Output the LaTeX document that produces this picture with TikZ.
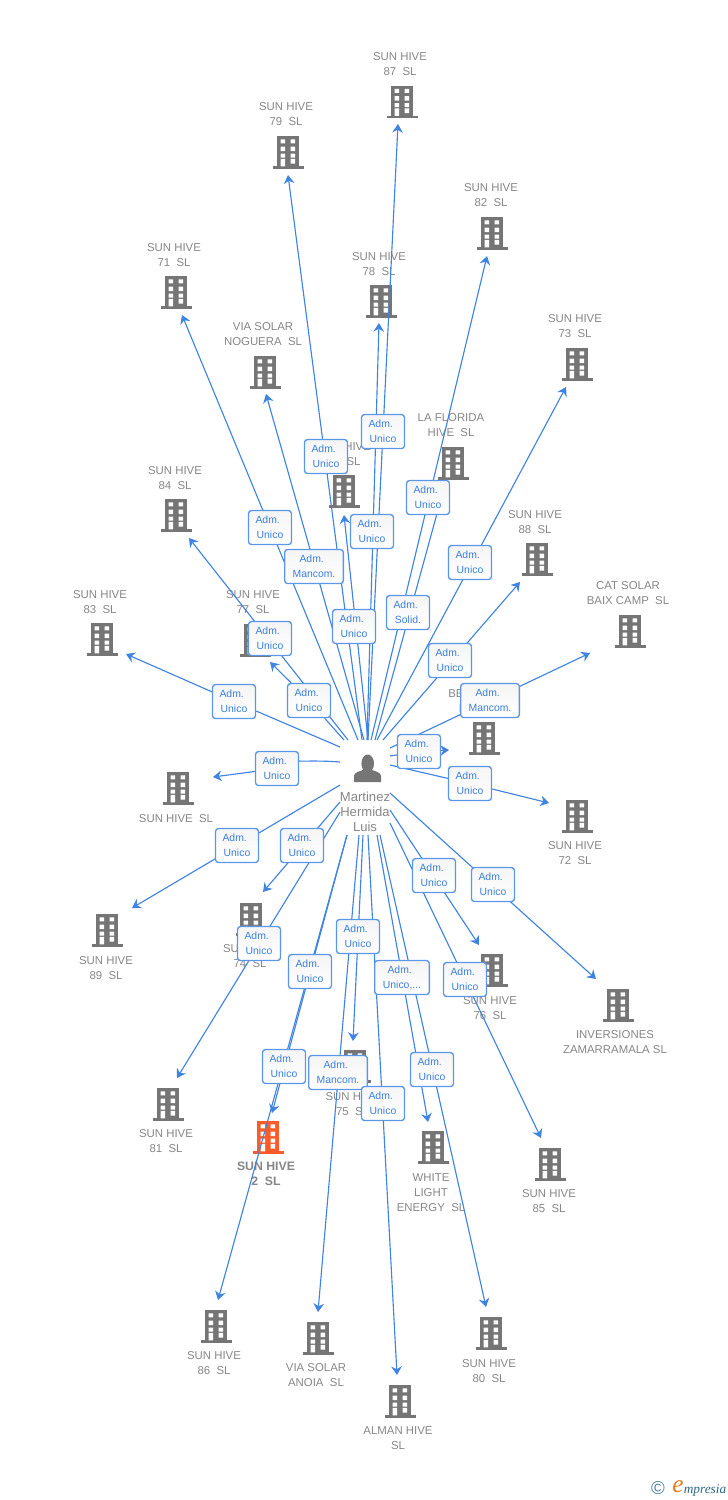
\documentclass[tikz,border=0pt]{standalone}
\usepackage{fontspec}
\setmainfont{Liberation Sans}
\newfontfamily\logofont{Liberation Serif}
\usetikzlibrary{arrows.meta}
\definecolor{linkblue}{HTML}{3F83E3}
\definecolor{boxblue}{HTML}{5B97E8}
\definecolor{txtblue}{HTML}{3A80DC}
\definecolor{bldgray}{HTML}{757575}
\definecolor{bldred}{HTML}{FF5A2A}
\definecolor{capgray}{HTML}{868686}
\definecolor{logoteal}{HTML}{4A7F9A}
\definecolor{logoorange}{HTML}{F07A1A}
\definecolor{logonavy}{HTML}{2F6585}
\pgfdeclarelayer{back}
\pgfsetlayers{back,main}
\newcommand{\Adm}{Adm.\rule{3.5pt}{0pt}}
\tikzset{
  adm/.style={draw=boxblue,line width=1pt,top color=black!4,bottom color=white,rounded corners=2.2pt,text=txtblue,
    font=\fontsize{7.8pt}{11.25pt}\selectfont,align=center,inner sep=0pt,yshift=-0.4pt,
    minimum width=32.2pt,minimum height=25.5pt},
  admw/.style={adm,minimum width=44pt},
  admm/.style={adm,minimum width=41pt},
  captxt/.style={text=capgray,font=\fontsize{8.55pt}{11.25pt}\selectfont,align=center,inner sep=0pt,yshift=-0.5pt},
  captxtb/.style={captxt,font=\bfseries\fontsize{9.2pt}{11.25pt}\selectfont},
  captxtp/.style={captxt,font=\fontsize{9.8pt}{11.25pt}\selectfont},
  bnode/.style={inner sep=0pt,minimum width=23pt,minimum height=24pt},
  conn/.style={draw=linkblue,line width=.85pt,-{Stealth[length=6.5pt,width=8pt,inset=2.2pt]}},
}
\newcommand{\bldg}[4][bldgray]{%
  \node[bnode] (#2) at (#3,#4) {};
  \begin{scope}[shift={(#3,#4)}]
    \fill[#1] (-11,-16) rectangle (11,16);
    \fill[#1] (-15.5,14.3) rectangle (15.5,16.6);
    \fill[white] (-7.5,-12.7) rectangle (-2.8,-8.7) (2.5,-12.7) rectangle (7.2,-8.7)
      (-7.5,-5.3) rectangle (-2.8,-1) (2.5,-5.3) rectangle (7.2,-1)
      (-7.5,1.7) rectangle (-2.8,5.7) (2.5,1.7) rectangle (7.2,5.7)
      (-7.5,6.9) rectangle (-2.8,14.3) (2.5,6.9) rectangle (7.2,11.7);
  \end{scope}}
\begin{document}
\begin{tikzpicture}[x=0.75pt,y=-0.75pt]
\useasboundingbox (0,0) rectangle (728,1500);
% relation labels
\node[adm] (a87) at (383,431) {\Adm\\Unico};
\node[adm] (a79) at (326,456) {\Adm\\Unico};
\node[adm] (a82) at (428,497) {\Adm\\Unico};
\node[adm] (a71) at (270,527) {\Adm\\Unico};
\node[adm] (a78) at (372,531) {\Adm\\Unico};
\node[adm] (a73) at (470,562) {\Adm\\Unico};
\node[admw] (anog) at (314,566) {\Adm\\Mancom.};
\node[adm] (aflo) at (408,612) {\Adm\\Solid.};
\node[adm] (a70) at (354,626) {\Adm\\Unico};
\node[adm] (a84) at (270,638) {\Adm\\Unico};
\node[adm] (a88) at (450,660) {\Adm\\Unico};
\node[adm] (a83) at (234,701) {\Adm\\Unico};
\node[adm] (a77) at (309,700) {\Adm\\Unico};
\node[admw] (acat) at (490,700) {\Adm\\Mancom.};
\node[adm] (abe) at (419,751) {\Adm\\Unico};
\node[adm] (asun) at (277,768) {\Adm\\Unico};
\node[adm] (a72) at (470,783) {\Adm\\Unico};
\node[adm] (a89) at (237,845) {\Adm\\Unico};
\node[adm] (a74) at (302,845) {\Adm\\Unico};
\node[adm] (a76) at (434,875) {\Adm\\Unico};
\node[adm] (ainv) at (493,884) {\Adm\\Unico};
\node[adm] (a75) at (358,936) {\Adm\\Unico};
\node[adm] (a81) at (259,943) {\Adm\\Unico};
\node[adm] (a86) at (310,971) {\Adm\\Unico};
\node[admm] (awhi) at (402,977) {\Adm\\Unico,...};
\node[adm] (a85) at (465,979) {\Adm\\Unico};
\node[adm] (a2) at (284,1066) {\Adm\\Unico};
\node[adm] (a80) at (432,1069) {\Adm\\Unico};
\node[admw] (aano) at (338,1072) {\Adm\\Mancom.};
\node[adm] (aalm) at (383,1103) {\Adm\\Unico};
\begin{pgfonlayer}{back}
% person
\node[inner sep=0pt,minimum width=30pt,minimum height=22pt] (person) at (367.5,768) {};
\fill[bldgray] (367.7,763.5) ellipse (6.3 and 9);
\fill[bldgray] (354,782) -- (354,776) .. controls (354,772) and (360,771.5) .. (364,769.5)
  -- (371,769.5) .. controls (375,771.5) and (381,772) .. (381,776) -- (381,782) -- cycle;
\node[captxtp] (tperson) at (365,811) {Martinez\\Hermida\\Luis};
% buildings
\bldg{b87}{402}{101.5}
\bldg{b79}{288}{152}
\bldg{b82}{492}{233}
\bldg{b71}{176}{292}
\bldg{b78}{381}{301}
\bldg{b73}{577}{364}
\bldg{bnog}{265}{372}
\bldg{b70}{344}{491}
\bldg{bflo}{453}{463}
\bldg{b88}{537}{559}
\bldg{b84}{176}{515}
\bldg{bcat}{630}{631}
\bldg{b83}{102}{639}
\bldg{b77}{255}{640}
\bldg{bbe}{484}{738}
\bldg{b72}{577}{816}
\bldg{bsun}{178}{788}
\bldg{b89}{107}{930}
\bldg{b74}{251}{919}
\bldg{b76}{492}{970}
\bldg{binv}{618}{1005}
\bldg{b81}{168}{1104}
\bldg{b75}{355}{1066}
\bldg[bldred]{b2}{268}{1137}
\bldg{bwhi}{433}{1147}
\bldg{b85}{550}{1164}
\bldg{b86}{216}{1326}
\bldg{bano}{318}{1338}
\bldg{b80}{491}{1333}
\bldg{balm}{400}{1401}
% captions
\node[captxt] (t87) at (400,63.5) {SUN HIVE\\87\ \ SL};
\node[captxt] (t79) at (286,113.5) {SUN HIVE\\79\ \ SL};
\node[captxt] (t82) at (491,194.5) {SUN HIVE\\82\ \ SL};
\node[captxt] (t71) at (174,254.5) {SUN HIVE\\71\ \ SL};
\node[captxt] (t78) at (379,263.5) {SUN HIVE\\78\ \ SL};
\node[captxt] (t73) at (575,325.5) {SUN HIVE\\73\ \ SL};
\node[captxt] (tnog) at (263,333.5) {VIA SOLAR\\NOGUERA\ \ SL};
\node[captxt] (t70) at (344,453.5) {SUN HIVE\\70\ \ SL};
\node[captxt] (tflo) at (451,424.5) {LA FLORIDA\\HIVE\ \ SL};
\node[captxt] (t88) at (535,521.5) {SUN HIVE\\88\ \ SL};
\node[captxt] (t84) at (175,477.5) {SUN HIVE\\84\ \ SL};
\node[captxt] (tcat) at (628,592.5) {CAT SOLAR\\BAIX CAMP\ \ SL};
\node[captxt] (t83) at (100,601.5) {SUN HIVE\\83\ \ SL};
\node[captxt] (t77) at (253,601.5) {SUN HIVE\\77\ \ SL};
\node[captxt,align=left,anchor=west] (tbe) at (448,700.5) {BE\\\hspace*{8pt}H};
\node[captxt] (t72) at (575,852.5) {SUN HIVE\\72\ \ SL};
\node[captxt] (tsun) at (176,818) {SUN HIVE\ \ SL};
\node[captxt] (t89) at (106,967.5) {SUN HIVE\\89\ \ SL};
\node[captxt] (t74) at (250,955.5) {SUN HIVE\\74\ \ SL};
\node[captxt] (t76) at (490,1007.5) {SUN HIVE\\76\ \ SL};
\node[captxt] (tinv) at (615,1041.5) {INVERSIONES\\ZAMARRAMALA SL};
\node[captxt] (t81) at (166,1140.5) {SUN HIVE\\81\ \ SL};
\node[captxt] (t75) at (352.5,1103.5) {SUN HIVE\\75\ \ SL};
\node[captxtb] (t2) at (266,1173.5) {SUN HIVE\\2\ \ SL};
\node[captxt] (twhi) at (431,1192) {WHITE\\LIGHT\\ENERGY\ \ SL};
\node[captxt] (t85) at (549,1200.5) {SUN HIVE\\85\ \ SL};
\node[captxt] (t86) at (214,1362.5) {SUN HIVE\\86\ \ SL};
\node[captxt] (tano) at (316,1374.5) {VIA SOLAR\\ANOIA\ \ SL};
\node[captxt] (t80) at (489,1370.5) {SUN HIVE\\80\ \ SL};
\node[captxt] (talm) at (398,1437.5) {ALMAN HIVE\\SL};
% connector ends
\foreach \n/\sx/\sy/\tx/\ty in {
  87/368/740/398/124, 79/362/740/288/175, 82/371/740/487/256, 71/358/740/182/315,
  78/367/740/379/323, 73/377/740/566/387, nog/364/740/266/394, flo/375/740/444/488,
  70/368/740/344/515, 84/348/740/189/538, 88/383/740/520/582, 83/340/747/126/654,
  77/344/740/270/662, cat/390/748/590/653, be/390/756/449/750, sun/340/762/213/777,
  72/390/765/549/803, 89/340/785/132/908, 74/340/802/263/892, 76/390/810/479/945,
  inv/390/793/596/979, 75/363/835/353/1041, 81/340/812/177/1078, 86/347/835/218/1300,
  whi/377/835/428/1122, 85/390/823/541/1138, 2/347/835/272/1113, 80/380/835/486/1307,
  ano/359/835/318/1312, alm/368/835/397/1375}
  {\coordinate (s\n) at (\sx,\sy); \coordinate (e\n) at (\tx,\ty);}
% connectors
\foreach \n in {87,79,82,71,78,73,nog,flo,70,84,75,81,86,whi,85,2,80,ano,alm,cat,89,76,inv,74,88}
  {\draw[conn] (s\n) -- (e\n);}
\draw[conn] (s83) -- (a83) -- (e83);
\draw[conn] (s77) -- (a77) -- (e77);
\draw[conn] (sbe) -- (abe) -- (ebe);
\draw[conn] (ssun) .. controls (315,760) and (295,762) .. (asun) -- (esun);
\draw[conn] (s72) -- (a72) -- (e72);
% logo
\node[inner sep=0pt,text=logoteal,font=\fontsize{14pt}{15pt}\selectfont] (logoc) at (658,1488.5) {\char"00A9};
\node[inner sep=0pt,text=logoorange,font=\logofont\itshape\fontsize{19pt}{20pt}\selectfont] (logoe) at (678,1486.5) {e};
\node[inner sep=0pt,anchor=west,text=logonavy,font=\logofont\itshape\fontsize{10pt}{11pt}\selectfont] (logot) at (683.5,1490) {mpresia};
\end{pgfonlayer}
\end{tikzpicture}
\end{document}
